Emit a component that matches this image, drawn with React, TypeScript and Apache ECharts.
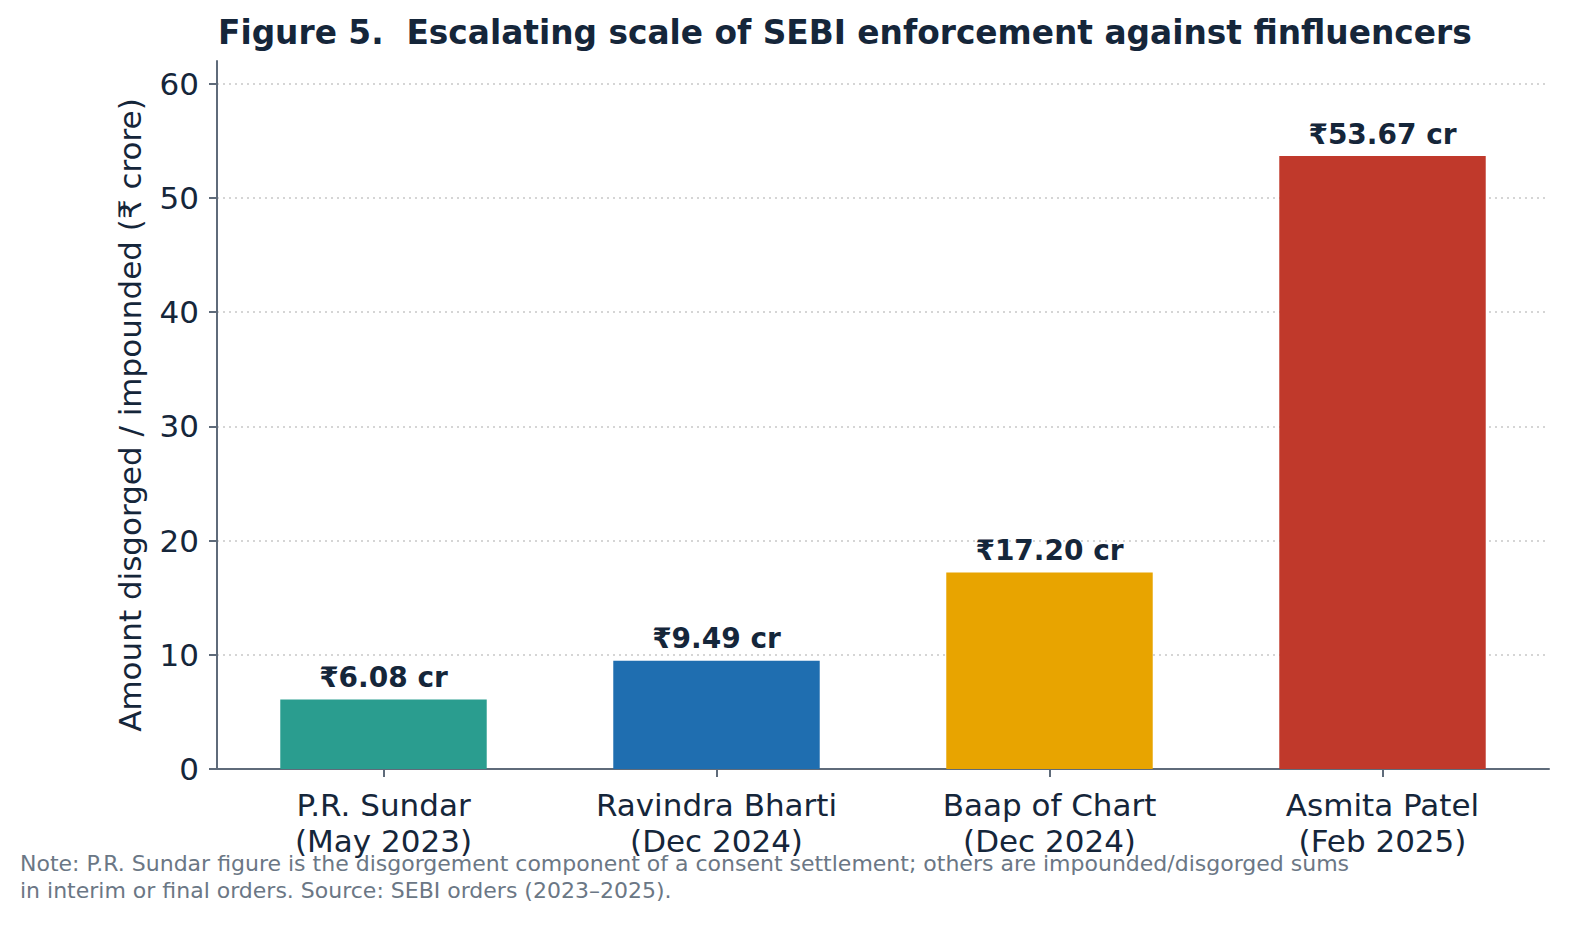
import React, { useEffect, useRef } from "react";
import * as echarts from "echarts";

const categories = [
  "P.R. Sundar\n(May 2023)",
  "Ravindra Bharti\n(Dec 2024)",
  "Baap of Chart\n(Dec 2024)",
  "Asmita Patel\n(Feb 2025)",
];
const amounts = [6.08, 9.49, 17.2, 53.67];
const barColors = ["#2a9d8f", "#1f6eb0", "#e8a400", "#c0392b"];
const yTicks = [0, 10, 20, 30, 40, 50, 60];
const titleText = "Figure 5.  Escalating scale of SEBI enforcement against finfluencers";
const yAxisName = "Amount disgorged / impounded (₹ crore)";
const noteLines = [
  "Note: P.R. Sundar figure is the disgorgement component of a consent settlement; others are impounded/disgorged sums",
  "in interim or final orders. Source: SEBI orders (2023–2025).",
];

const FONT = "DejaVu Sans";
const DARK = "#15263a";
const AXIS = "#5f6b7a";

export default function App() {
  const ref = useRef<HTMLDivElement>(null);
  useEffect(() => {
    if (!ref.current) return;
    const chart = echarts.init(ref.current, null, { renderer: "svg" });
    chart.setOption({
      animation: false,
      backgroundColor: "#ffffff",
      textStyle: { fontFamily: FONT },
      title: {
        text: titleText,
        left: 213,
        top: 11,
        textStyle: { fontFamily: FONT, fontSize: 32.8, fontWeight: "bold", color: DARK },
      },
      grid: { left: 217, right: 21, top: 61, bottom: 157, containLabel: false },
      xAxis: {
        type: "category",
        data: categories,
        axisLine: { show: true, lineStyle: { color: AXIS, width: 2 } },
        axisTick: { show: true, alignWithLabel: true, length: 8, lineStyle: { color: AXIS, width: 2 } },
        axisLabel: { fontFamily: FONT, fontSize: 31, color: DARK, lineHeight: 36, margin: 18 },
        splitLine: { show: false },
      },
      yAxis: {
        type: "value",
        min: 0,
        max: 62,
        interval: 10,
        name: yAxisName,
        nameLocation: "middle",
        nameGap: 72,
        nameTextStyle: { fontFamily: FONT, fontSize: 31, color: DARK },
        axisLine: { show: true, lineStyle: { color: AXIS, width: 2 } },
        axisTick: { show: true, length: 8, lineStyle: { color: AXIS, width: 2 }, customValues: yTicks },
        axisLabel: { fontFamily: FONT, fontSize: 31, color: DARK, margin: 18, customValues: yTicks },
        splitLine: {
          show: true,
          showMinLine: false,
          lineStyle: { color: "#c8c8c8", type: [2, 4], width: 1.5 },
        },
      },
      series: [
        {
          type: "bar",
          barWidth: "62%",
          data: amounts.map((v, i) => ({ value: v, itemStyle: { color: barColors[i] } })),
          label: {
            show: true,
            position: "top",
            distance: 8,
            fontFamily: FONT,
            fontSize: 28,
            fontWeight: "bold",
            color: DARK,
            formatter: (p: any) => "₹" + Number(p.value).toFixed(2) + " cr",
          },
        },
      ],
      graphic: [
        {
          type: "text",
          left: 20,
          top: 850,
          style: {
            text: noteLines.join("\n"),
            fontFamily: FONT,
            fontSize: 22,
            lineHeight: 27,
            fill: "#6b7785",
          },
        },
      ],
    });
    return () => chart.dispose();
  }, []);
  return (
    <div
      ref={ref}
      style={{ position: "absolute", left: 0, top: 0, width: 1570, height: 926 }}
    />
  );
}
